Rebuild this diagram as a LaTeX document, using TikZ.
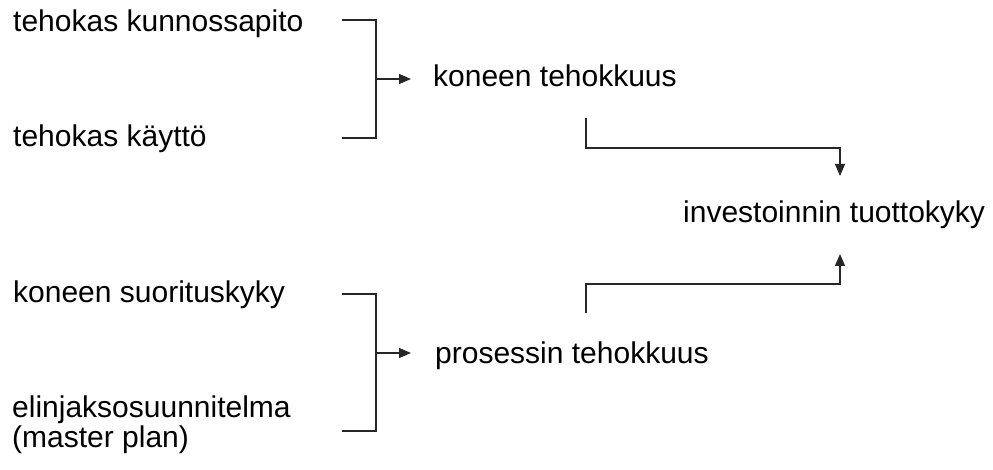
\documentclass[tikz,border=0pt]{standalone}
\usepackage{fontspec}
\setmainfont{Liberation Sans}
\usetikzlibrary{arrows.meta}
\begin{document}
\begin{tikzpicture}[x=1pt,y=-1pt,
  lbl/.style={anchor=base west,inner sep=0pt,font=\fontsize{30}{34}\selectfont,align=left},
  ln/.style={line width=1.2pt,draw=black!85},
  arr/.style={ln,-{Triangle[length=12pt,width=10pt]}}]
\useasboundingbox (0,0) rectangle (993,470);
\node[lbl] (tk) at (13,32) {tehokas kunnossapito};
\node[lbl] (tky) at (13,147) {tehokas käyttö};
\node[lbl] (kt) at (433,87) {koneen tehokkuus};
\node[lbl] (it) at (683,223) {investoinnin tuottokyky};
\node[lbl] (ks) at (13,302) {koneen suorituskyky};
\node[lbl] (pt) at (435,363) {prosessin tehokkuus};
\node[lbl] (el) at (12,417) {elinjaksosuunnitelma};
\node[lbl] (mp) at (12,447) {(master plan)};
% coordinates
\coordinate (b1a) at (342,20);
\coordinate (b1b) at (342,138);
\coordinate (b1m) at (376,79);
\coordinate (a1) at (411,79);
\coordinate (b2a) at (342,294);
\coordinate (b2b) at (342,431);
\coordinate (b2m) at (376,353);
\coordinate (a2) at (411,353);
\coordinate (k1) at (586,118);
\coordinate (k2) at (586,148);
\coordinate (i1) at (840,176);
\coordinate (p1) at (586,313);
\coordinate (p2) at (586,284);
\coordinate (i2) at (840,254);
% brackets
\draw[ln] (b1a) -| (b1m) |- (b1b);
\draw[arr] (b1m) -- (a1);
\draw[ln] (b2a) -| (b2m) |- (b2b);
\draw[arr] (b2m) -- (a2);
% to result
\draw[arr] (k1) -- (k2) -| (i1);
\draw[arr] (p1) -- (p2) -| (i2);
\end{tikzpicture}
\end{document}
